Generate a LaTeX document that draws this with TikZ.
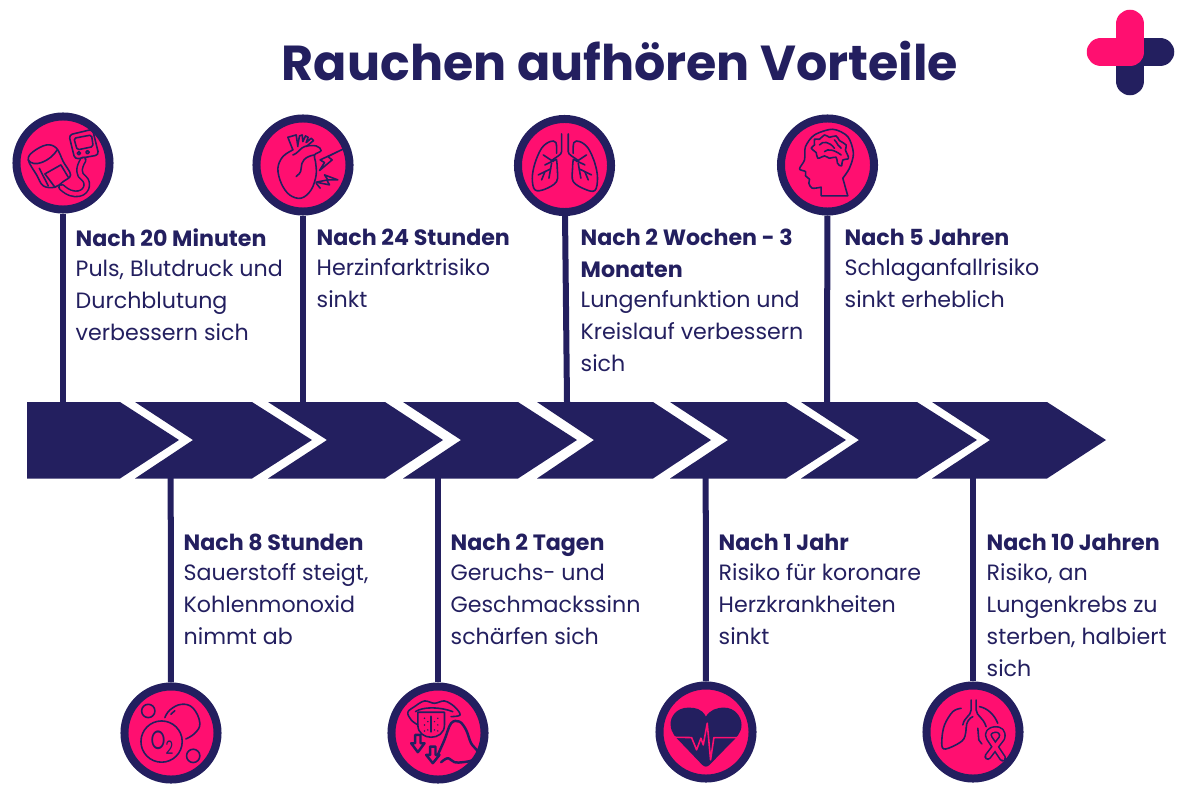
\documentclass[tikz,border=0pt]{standalone}
\usepackage{fontspec}
\setmainfont{Poppins}
\definecolor{inkblue}{HTML}{231F5F}
\definecolor{hotpink}{HTML}{FF0F70}
\tikzset{
	badge/.style={circle, draw=inkblue, fill=hotpink, line width=0.08cm, minimum size=0.93cm, inner sep=0},
	stem/.style={draw=inkblue, line width=0.06cm},
	note/.style={anchor=north west, inner sep=0, align=left, text=inkblue, font=\fontsize{6.3}{9.1}\selectfont},
	icon/.style={draw=inkblue, line width=0.45pt, line join=round, line cap=round},
	tube/.style={icon, double=hotpink, double distance=1.1pt},
	zoomed/.style={shift={#1}, x=0.003333cm, y=-0.003333cm}
}

\begin{document}
\begin{tikzpicture}[x=0.01cm, y=-0.01cm]
	\useasboundingbox (0,0) rectangle (1200,800);
	%%%%% TITLE AND LOGO %%%%%

	\node[text=inkblue, font=\fontsize{13.97}{18}\selectfont\bfseries] (title) at (620,61.5) {Rauchen aufhören Vorteile};

	\draw[line width=0.285cm, color=inkblue, line cap=round, line join=round] (1160,52) -- (1130,52) -- (1130,81);
	\draw[line width=0.285cm, color=hotpink, line cap=round, line join=round] (1130,24) -- (1130,52) -- (1101,52);

	%%%%% ARROW %%%%%

	\fill[inkblue] (27,402) -- (120,402) -- (179,440) -- (120,478.5) -- (27,478.5) -- cycle;
	\foreach \xa/\xb/\xc/\xd in {135/193/252/312, 268/327/385/443, 403/461/518/577, 537/594/653/711, 670/728/786/846, 801/859/917/977, 932/990/1047/1106}
		\fill[inkblue] (\xa,402) -- (\xc,402) -- (\xd,440) -- (\xc,478.5) -- (\xa,478.5) -- (\xb,440) -- cycle;

	\coordinate (barA) at (63,402);
	\coordinate (barB) at (303,402);
	\coordinate (barC) at (567,402);
	\coordinate (barD) at (827,402);
	\coordinate (barE) at (170.7,478);
	\coordinate (barF) at (438,478);
	\coordinate (barG) at (705.7,478);
	\coordinate (barH) at (973,478);

	%%%%% BADGES %%%%%

	\node[badge] (cuff) at (63,163) {};
	\node[badge] (heart) at (303,165) {};
	\node[badge] (lungs) at (564.5,165.5) {};
	\node[badge] (brain) at (827.5,165) {};
	\node[badge] (oxygen) at (171,733) {};
	\node[badge] (tongue) at (438,733) {};
	\node[badge] (pulse) at (706,732) {};
	\node[badge] (ribbon) at (973,732) {};

	\draw[stem] (cuff) -- (barA);
	\draw[stem] (heart) -- (barB);
	\draw[stem] (lungs) -- (barC);
	\draw[stem] (brain) -- (barD);
	\draw[stem] (barE) -- (oxygen);
	\draw[stem] (barF) -- (tongue);
	\draw[stem] (barG) -- (pulse);
	\draw[stem] (barH) -- (ribbon);

	%%%%% TEXTS %%%%%

	\node[note] (noteA) at (75,228.5) {\textbf{Nach 20 Minuten}\\[-0.57pt]Puls, Blutdruck und\\Durchblutung\\verbessern sich};
	\node[note] (noteB) at (316,228.5) {\textbf{Nach 24 Stunden}\\[-0.57pt]Herzinfarktrisiko\\sinkt};
	\node[note] (noteC) at (580,228.5) {\textbf{Nach 2 Wochen - 3}\\\textbf{Monaten}\\[-0.57pt]Lungenfunktion und\\Kreislauf verbessern\\sich};
	\node[note] (noteD) at (844,228.5) {\textbf{Nach 5 Jahren}\\[-0.57pt]Schlaganfallrisiko\\sinkt erheblich};
	\node[note] (noteE) at (183,533.5) {\textbf{Nach 8 Stunden}\\[-0.57pt]Sauerstoff steigt,\\Kohlenmonoxid\\nimmt ab};
	\node[note] (noteF) at (450,533.5) {\textbf{Nach 2 Tagen}\\[-0.57pt]Geruchs- und\\Geschmackssinn\\schärfen sich};
	\node[note] (noteG) at (718,533.5) {\textbf{Nach 1 Jahr}\\[-0.57pt]Risiko für koronare\\Herzkrankheiten\\sinkt};
	\node[note] (noteH) at (986,533.5) {\textbf{Nach 10 Jahren}\\[-0.57pt]Risiko, an\\Lungenkrebs zu\\sterben, halbiert\\sich};

	%%%%% ICONS %%%%%

	\begin{scope}[zoomed={(0,100)}]
		\draw[icon] plot[smooth cycle, tension=0.6] coordinates {(85,180) (100,155) (140,135) (170,145) (190,185) (212,225) (190,245) (165,262) (130,258) (110,225)};
		\draw[icon] (85,180) .. controls (100,205) and (150,185) .. (172,150);
		\draw[icon] (118,205) -- (145,258);
		\draw[icon] (135,222) -- (183,195) -- (205,232);
		\draw[icon] (135,222) -- (165,262);
		\draw[icon, rounded corners=1pt] (207,105) -- (278,88) -- (297,165) -- (225,178) -- cycle;
		\draw[icon, rounded corners=0.5pt] (222,115) -- (275,105) -- (280,140) -- (232,150) -- cycle;
		\draw[icon] (237,160) circle (5);
		\draw[icon] (263,157) circle (5);
		\draw[tube] (250,180) .. controls (235,205) and (235,225) .. (252,235) .. controls (270,250) and (260,285) .. (225,282) .. controls (205,280) and (195,270) .. (185,262);
	\end{scope}

	\begin{scope}[zoomed={(0,100)}]
		\draw[icon] plot[smooth, tension=0.6] coordinates {(880,150) (850,170) (835,205) (845,250) (870,285) (905,295) (935,270) (950,225) (948,185) (945,165) (965,152) (950,138) (915,140) (890,160) (880,165)};
		\draw[icon] (945,165) .. controls (915,170) and (905,185) .. (905,205) .. controls (905,220) and (895,225) .. (890,230);
		\draw[icon] (880,150) -- (865,112) -- (890,105) -- (895,140);
		\draw[icon] (895,135) -- (900,108) -- (908,105) -- (910,125) -- (918,108) -- (926,112) -- (920,128) -- (935,115) -- (942,122) -- (920,140);
		\draw[icon] (1030,148) -- (985,170) -- (998,180) -- (960,212) -- (975,188) -- (962,180) -- cycle;
		\draw[icon] (1015,240) -- (975,225) -- (985,240) -- (950,247) -- (990,255) -- (982,240) -- cycle;
		\draw[icon] (950,250) -- (962,265);
	\end{scope}

	\begin{scope}[zoomed={(500,100)}]
		\draw[icon] (185,102) -- (185,155) .. controls (185,165) and (170,170) .. (155,182);
		\draw[icon] (205,102) -- (205,155) .. controls (205,165) and (220,170) .. (235,182);
		\draw[icon] plot[smooth, tension=0.6] coordinates {(170,160) (168,128) (150,125) (125,145) (105,190) (97,235) (105,270) (135,268) (170,245) (172,205) (170,180)};
		\draw[icon] plot[smooth, tension=0.6] coordinates {(220,160) (222,128) (240,125) (265,145) (285,190) (293,235) (285,272) (255,268) (220,245) (218,205) (220,180)};
		\draw[icon] (130,165) -- (160,185);
		\draw[icon] (135,195) -- (170,178);
		\draw[icon] (155,190) -- (147,235);
		\draw[icon] (115,225) -- (152,207);
		\draw[icon] (125,240) -- (135,215);
		\draw[icon] (260,165) -- (230,185);
		\draw[icon] (255,195) -- (220,178);
		\draw[icon] (235,190) -- (243,235);
		\draw[icon] (275,225) -- (238,207);
		\draw[icon] (265,240) -- (255,215);
	\end{scope}

	\begin{scope}[zoomed={(500,100)}]
		\draw[icon] (1045,288) -- (965,288) -- (965,262) -- plot[smooth, tension=0.5] coordinates {(965,262) (938,265) (928,250) (930,238) (918,228) (918,215) (900,207) (915,180) (918,140) (945,105) (1000,88) (1045,110) (1062,160) (1050,205) (1030,235)} -- (1045,288);
		\draw[icon] plot[smooth cycle, tension=0.7] coordinates {(935,145) (945,135) (945,118) (960,118) (975,105) (990,112) (1010,108) (1020,122) (1040,135) (1038,150) (1047,175) (1030,180) (1026,198) (1014,190) (1010,172) (990,175) (975,168) (955,175) (950,158)};
		\draw[icon] (960,135) .. controls (970,122) and (990,125) .. (1005,145);
		\draw[icon] (975,155) .. controls (985,145) and (1005,150) .. (1025,165);
		\draw[icon] (1005,120) .. controls (1015,130) and (1015,140) .. (1025,145);
	\end{scope}

	\begin{scope}[zoomed={(110,675)}]
		\draw[icon] (115,108) circle (20);
		\draw[icon] (250,243) circle (20);
		\draw[icon] (155,200) circle (62);
		\draw[icon] plot[smooth, tension=0.7] coordinates {(165,128) (180,105) (215,88) (250,100) (270,145) (255,175) (228,192)};
		\draw[icon] (183,118) -- (195,107);
		\node[text=inkblue, font=\fontsize{7.5}{9}\selectfont, xscale=0.72] (gas) at (158,203) {O\textsubscript{2}};
	\end{scope}

	\begin{scope}[zoomed={(110,675)}]
		\draw[icon] plot[smooth, tension=0.6] coordinates {(925,150) (905,135) (895,112) (915,95) (945,78) (975,85) (1005,78) (1035,95) (1052,120) (1025,125)};
		\draw[icon] (918,110) .. controls (940,95) and (990,95) .. (1030,110);
		\draw[icon] (925,112) -- (1005,112) -- (1005,150) .. controls (1005,175) and (985,187) .. (965,187) .. controls (945,187) and (925,175) .. (925,150) -- cycle;
		\draw[icon, line width=0.7pt] (965,125) -- (965,170);
		\foreach \xd/\yd in {945/130,945/150,955/165,985/130,985/150,975/165,955/140,975/140,945/168,985/168}
			\fill[inkblue] (\xd,\yd) circle (2.5);
		\draw[icon, line width=0.7pt] (917,180) -- (933,180) -- (933,205) -- (945,205) -- (925,232) -- (905,205) -- (917,205) -- cycle;
		\draw[icon, line width=0.7pt] (962,215) -- (978,215) -- (978,240) -- (990,240) -- (970,265) -- (950,240) -- (962,240) -- cycle;
		\draw[icon, line width=0.7pt] plot[smooth, tension=0.6] coordinates {(985,240) (1005,195) (1025,145) (1050,140) (1070,165) (1085,205) (1105,232) (1090,255) (1060,262) (1035,262) (1015,250) (995,262)};
	\end{scope}

	\begin{scope}[zoomed={(645,675)}]
		\fill[inkblue] (183,125) .. controls (170,100) and (150,98) .. (130,98) .. controls (95,98) and (75,125) .. (77,150) .. controls (78,175) and (95,190) .. (105,200) -- (172,270) .. controls (180,277) and (186,277) .. (194,270) -- (262,200) .. controls (272,190) and (290,175) .. (290,150) .. controls (290,125) and (270,98) .. (238,98) .. controls (215,98) and (195,105) .. (183,125) -- cycle;
		\draw[draw=hotpink, line width=0.45pt, line join=round] (85,187) -- (140,188) -- (155,225) -- (168,190) -- (175,210) -- (187,145) -- (197,255) -- (207,188) -- (280,188);
	\end{scope}

	\begin{scope}[zoomed={(645,675)}]
		\draw[icon] plot[smooth, tension=0.6] coordinates {(950,100) (925,110) (900,150) (892,195) (897,222) (930,212) (958,192) (965,160)};
		\draw[icon] (980,75) -- (980,105) .. controls (978,125) and (960,125) .. (955,150);
		\draw[icon] (995,75) -- (995,105) .. controls (997,125) and (1015,125) .. (1025,155);
		\draw[icon] (1005,95) .. controls (1030,100) and (1050,120) .. (1060,145);
		\draw[icon] (1000,160) -- (1003,195) -- (1012,207);
		\draw[icon] (985,125) .. controls (975,130) and (965,140) .. (965,160);
		\draw[tube] (1075,250) -- (1035,190) .. controls (1015,160) and (1085,150) .. (1072,190) -- (1030,245);
	\end{scope}

	%%%%% END %%%%%
\end{tikzpicture}
\end{document}
